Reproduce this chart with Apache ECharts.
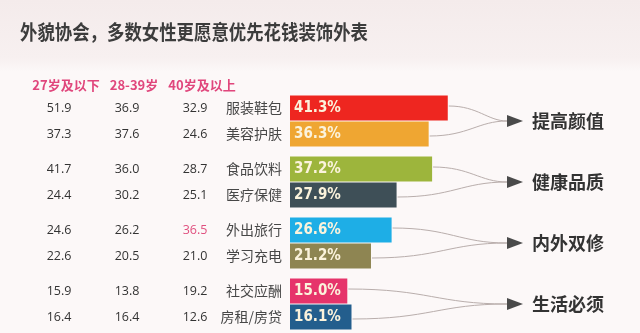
<!DOCTYPE html>
<html><head><meta charset="utf-8">
<script src="https://cdn.jsdelivr.net/npm/echarts@6/dist/echarts.min.js"></script>
<style>html,body{margin:0;padding:0;background:#fcf8f8}#c{width:640px;height:333px}</style>
</head><body><div id="c"></div>
<script>
const title = '外貌协会，多数女性更愿意优先花钱装饰外表';
const headers = ['27岁及以下', '28-39岁', '40岁及以上'];
const categories = ['服装鞋包', '美容护肤', '食品饮料', '医疗保健', '外出旅行', '学习充电', '社交应酬', '房租/房贷'];
const totals = [41.3, 36.3, 37.2, 27.9, 26.6, 21.2, 15.0, 16.1];
const age27 = ['51.9', '37.3', '41.7', '24.4', '24.6', '22.6', '15.9', '16.4'];
const age28 = ['36.9', '37.6', '36.0', '30.2', '26.2', '20.5', '13.8', '16.4'];
const age40 = ['32.9', '24.6', '28.7', '25.1', '36.5', '21.0', '19.2', '12.6'];
const highlight40 = ['36.5'];
const groups = ['提高颜值', '健康品质', '内外双修', '生活必须'];
const colors = ['#ee2620', '#efa632', '#9db53c', '#3e4f57', '#1eaee6', '#8e8552', '#e6346b', '#235e8d'];

const gridTops = [95, 156, 217, 278];
const GL = 290, GW = 191;
const colCenters = [59, 127, 195];
const cols = [age27, age28, age40];

const chart = echarts.init(document.getElementById('c'), null, {renderer: 'canvas'});
const grid = [], xAxis = [], yAxis = [], series = [];
for (let g = 0; g < 4; g++) {
  const cats = categories.slice(g * 2, g * 2 + 2);
  grid.push({left: GL, width: GW, top: gridTops[g], height: 52});
  xAxis.push({type: 'value', gridIndex: g, min: 0, max: 50, show: false});
  yAxis.push({type: 'category', gridIndex: g, inverse: true, data: cats,
    axisLine: {show: false}, axisTick: {show: false}, splitLine: {show: false},
    axisLabel: {margin: 8, fontSize: 14, color: '#474747', fontFamily: 'Noto Sans CJK SC'}});
  for (let c = 0; c < 3; c++) {
    const vals = cols[c].slice(g * 2, g * 2 + 2);
    yAxis.push({type: 'category', gridIndex: g, inverse: true, data: vals, position: 'left',
      offset: GL - colCenters[c],
      axisLine: {show: false}, axisTick: {show: false}, splitLine: {show: false},
      axisLabel: {margin: 0, align: 'center', fontSize: 12.5, fontFamily: 'Open Sans',
        color: (v) => (c === 2 && highlight40.includes(v)) ? '#e0507f' : '#333'}});
  }
  series.push({type: 'bar', xAxisIndex: g, yAxisIndex: g * 4, barWidth: 25,
    data: totals.slice(g * 2, g * 2 + 2).map((v, i) => ({value: v, itemStyle: {color: colors[g * 2 + i]}})),
    label: {show: true, position: 'insideLeft', distance: 4, formatter: (p) => p.value.toFixed(1) + '%',
      color: '#fbf3dc', fontSize: 15, fontWeight: 'bold', fontFamily: '"DejaVu Sans Condensed", "Liberation Sans Narrow", "Roboto", sans-serif'}});
}

const graphics = [
  {type: 'rect', shape: {x: 0, y: 0, width: 640, height: 72}, style: {fill: {type: 'linear', x: 0, y: 0, x2: 0, y2: 1,
    colorStops: [{offset: 0, color: '#f4ebeb'}, {offset: 0.8, color: '#f7f0f0'}, {offset: 1, color: '#fcf8f8'}]}}, z: -10},
  {type: 'text', x: 20, y: 32, scaleX: 0.87, style: {text: title, font: 'bold 20px "Noto Sans CJK SC"', fill: '#3c3c3c', textVerticalAlign: 'middle'}}
];
headers.forEach((h, i) => graphics.push({type: 'text', x: colCenters[i] + 7, y: 85,
  style: {text: h, font: 'bold 13px "Noto Sans CJK SC"', fill: '#e0467c', textAlign: 'center', textVerticalAlign: 'middle'}}));

chart.setOption({animation: false, backgroundColor: '#fcf8f8', grid, xAxis, yAxis, series, graphic: graphics});

// connectors computed from axis scales
const ARROW_X = 507;
for (let g = 0; g < 4; g++) {
  const p0 = chart.convertToPixel({gridIndex: g}, [totals[g * 2], 0]);
  const p1 = chart.convertToPixel({gridIndex: g}, [totals[g * 2 + 1], 1]);
  const cy = (p0[1] + p1[1]) / 2;
  [p0, p1].forEach((p) => {
    const sx = p[0] + 1, sy = p[1] + (p === p0 ? -2 : 2);
    const mx = (sx + ARROW_X) / 2;
    graphics.push({type: 'bezierCurve', shape: {x1: sx, y1: sy, cpx1: mx, cpy1: sy, cpx2: mx + 10, cpy2: cy, x2: ARROW_X, y2: cy},
      style: {stroke: '#b9aeac', lineWidth: 1, fill: null}});
  });
  graphics.push({type: 'polygon', shape: {points: [[ARROW_X, cy - 6], [ARROW_X + 16, cy], [ARROW_X, cy + 6]]}, style: {fill: '#4a4a4a'}});
  graphics.push({type: 'text', x: 532, y: cy, style: {text: groups[g], font: 'bold 18px "Noto Sans CJK SC"', fill: '#333', textVerticalAlign: 'middle'}});
}
chart.setOption({graphic: graphics});
</script></body></html>
